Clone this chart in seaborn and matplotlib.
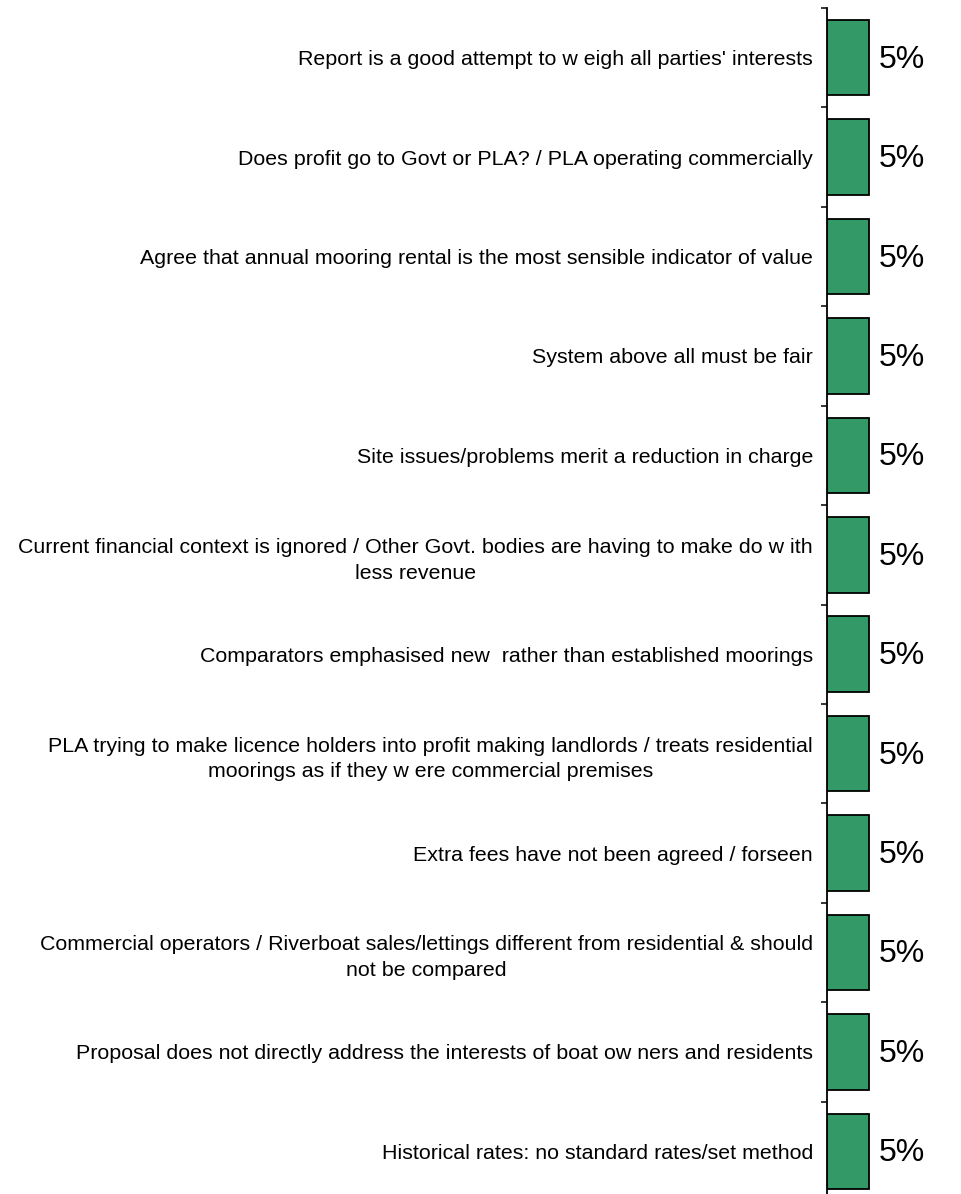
import pandas as pd
import matplotlib.pyplot as plt
import seaborn as sns
from matplotlib.ticker import FixedLocator

# Chart data
categories = [
    "Report is a good attempt to w eigh all parties' interests",
    "Does profit go to Govt or PLA? / PLA operating commercially",
    "Agree that annual mooring rental is the most sensible indicator of value",
    "System above all must be fair",
    "Site issues/problems merit a reduction in charge",
    "Current financial context is ignored / Other Govt. bodies are having to make do w ith\nless revenue",
    "Comparators emphasised new  rather than established moorings",
    "PLA trying to make licence holders into profit making landlords / treats residential\nmoorings as if they w ere commercial premises",
    "Extra fees have not been agreed / forseen",
    "Commercial operators / Riverboat sales/lettings different from residential & should\nnot be compared",
    "Proposal does not directly address the interests of boat ow ners and residents",
    "Historical rates: no standard rates/set method",
]
values = [5, 5, 5, 5, 5, 5, 5, 5, 5, 5, 5, 5]
value_labels = ["5%"] * 12

data = pd.DataFrame({"Category": categories, "Percent": values})

sns.set_style("white")
plt.rcParams['font.family'] = ['Liberation Sans', 'DejaVu Sans']

fig = plt.figure(figsize=(9.61, 11.94), dpi=100)
ax = fig.add_axes([827 / 961, -7 / 1194, 134 / 961, 1193 / 1194])

sns.barplot(x="Percent", y="Category", data=data, orient="h", color="#339966",
            saturation=1, edgecolor="black", linewidth=1.3, width=0.76, ax=ax)

ax.set_xlim(0, 5 * 134 / 42)
ax.set_ylim(len(categories) - 0.5, -0.5)
ax.set_xlabel("")
ax.set_ylabel("")
ax.set_xticks([])

for side in ["top", "right", "bottom"]:
    ax.spines[side].set_visible(False)
ax.spines["left"].set_linewidth(1.3)
ax.spines["left"].set_color("black")

# labels at centres, tick marks at boundaries
ax.tick_params(axis="y", which="major", length=0, pad=10, labelsize=15.4, labelcolor="black")
ax.yaxis.set_minor_locator(FixedLocator([i - 0.5 for i in range(len(categories) + 1)]))
ax.tick_params(axis="y", which="minor", length=4, width=1.1, color="black", left=True)
for lbl in ax.get_yticklabels():
    lbl.set_multialignment("center")
    lbl.set_linespacing(1.45)

# value labels
for i, (v, t) in enumerate(zip(values, value_labels)):
    ax.text(v + 1.15, i + 0.02, t, va="center", ha="left", fontsize=23, color="black")

plt.savefig("out.png", dpi=100)
